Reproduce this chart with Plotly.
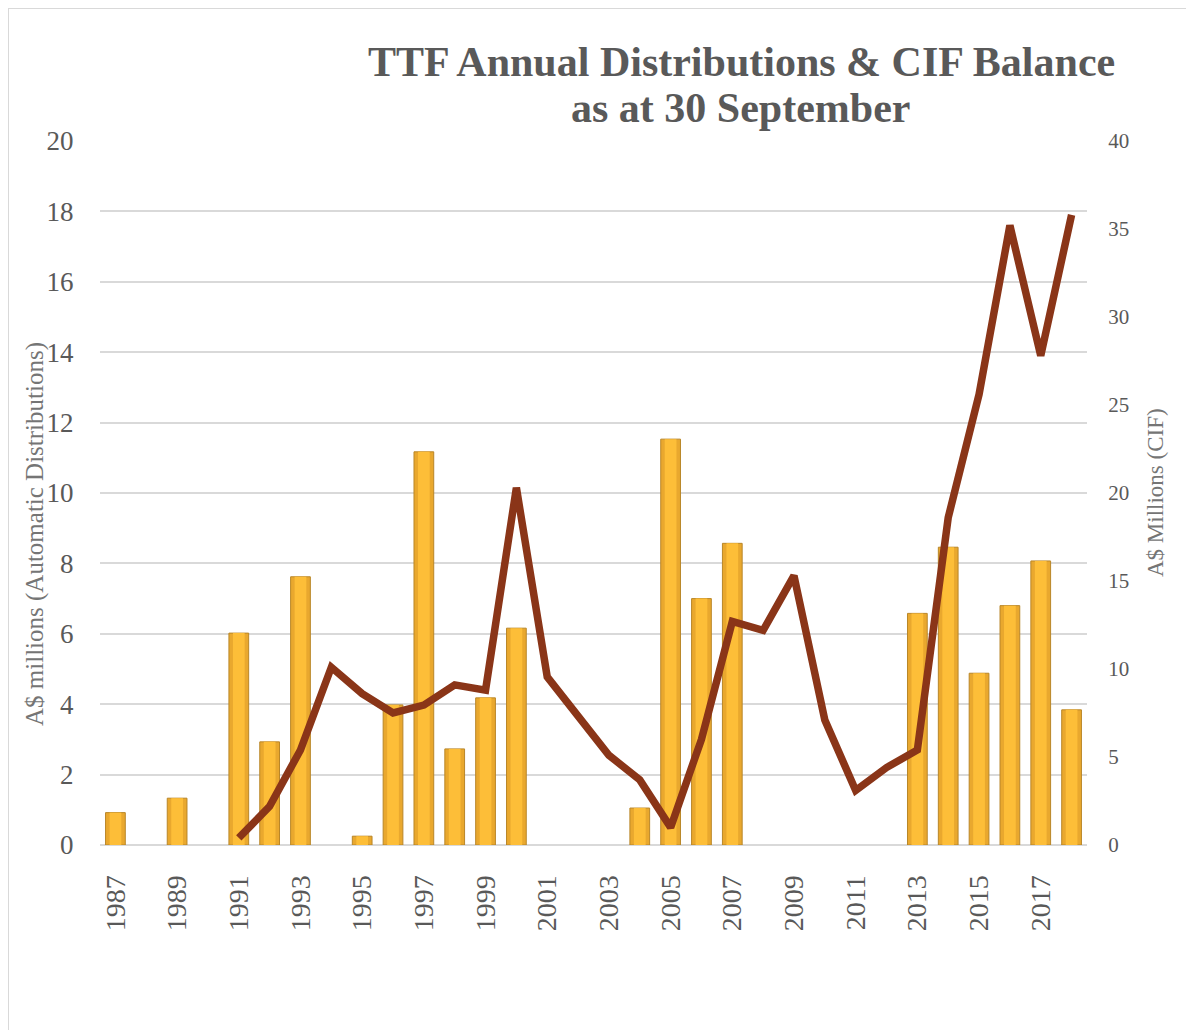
import plotly.graph_objects as go

years = list(range(1987, 2019))
distributions = [0.92, 0, 1.33, 0, 6.02, 2.93, 7.62, 0, 0.25, 3.98, 11.17, 2.73, 4.18, 6.16,
                 0, 0, 0, 1.05, 11.53, 7.0, 8.57, 0, 0, 0, 0, 0, 6.58, 8.46, 4.88, 6.8, 8.07, 3.84]
cif_years = list(range(1991, 2019))
cif_balance = [0.4, 2.2, 5.4, 10.1, 8.6, 7.5, 7.95, 9.1, 8.8, 20.3, 9.55, 7.3, 5.1, 3.7, 1.0,
               6.0, 12.7, 12.2, 15.3, 7.1, 3.1, 4.4, 5.4, 18.6, 25.6, 35.2, 27.8, 35.8]
tick_years = list(range(1987, 2019, 2))
left_ticks = list(range(0, 21, 2))
right_ticks = list(range(0, 41, 5))

FONT = "Liberation Serif"
GREY = "#595959"

# plot area in page pixels (page has an 8px body margin)
PL, PR, PT, PB = 100, 1087, 141, 845
PW, PH = PR - PL, PB - PT


def px(x):
    return (x - PL) / PW


def py(y):
    return (PB - y) / PH


bar_x = [y for y, v in zip(years, distributions) if v > 0]
bar_y = [v for v in distributions if v > 0]

fig = go.Figure()
fig.add_trace(go.Bar(
    x=bar_x, y=bar_y, width=0.64,
    marker=dict(color="#E9A82E", line=dict(color="#B98628", width=1)),
    name="Automatic Distributions",
))
fig.add_trace(go.Bar(
    x=bar_x, y=bar_y, width=0.38,
    marker=dict(color="#FDBE38", line=dict(width=0)),
    hoverinfo="skip", showlegend=False,
))
fig.add_trace(go.Scatter(
    x=cif_years, y=cif_balance, yaxis="y2", mode="lines",
    line=dict(color="#8A3518", width=7.5),
    name="CIF Balance",
))

fig.update_layout(
    width=1186, height=1022,
    margin=dict(l=PL - 8, r=1194 - PR, t=PT - 8, b=1030 - PB),
    paper_bgcolor="white", plot_bgcolor="white",
    showlegend=False,
    barmode="overlay",
    font=dict(family=FONT, color=GREY),
    xaxis=dict(
        range=[1986.5, 2018.5],
        tickmode="array", tickvals=tick_years, ticktext=[str(t) for t in tick_years],
        tickangle=-90, tickfont=dict(size=28, color=GREY),
        showgrid=False, zeroline=False, showline=False,
        ticks="outside", ticklen=18, tickcolor="rgba(0,0,0,0)",
    ),
    yaxis=dict(
        range=[0, 20], tickmode="array", tickvals=left_ticks,
        tickfont=dict(size=27, color=GREY),
        showgrid=True, gridcolor="#D9D9D9", gridwidth=2,
        zeroline=True, zerolinecolor="#D9D9D9", zerolinewidth=2,
        ticks="outside", ticklen=20, tickcolor="rgba(0,0,0,0)",
    ),
    yaxis2=dict(
        range=[0, 40], tickmode="array", tickvals=right_ticks,
        overlaying="y", side="right",
        tickfont=dict(size=21, color=GREY),
        showgrid=False, zeroline=False,
        ticks="outside", ticklen=16, tickcolor="rgba(0,0,0,0)",
    ),
    annotations=[
        dict(text="<b>TTF Annual Distributions & CIF Balance</b>",
             x=px(741), y=py(62), xref="paper", yref="paper", showarrow=False,
             xanchor="center", yanchor="middle",
             font=dict(size=42, color=GREY, family=FONT)),
        dict(text="<b>as at 30 September</b>",
             x=px(740), y=py(108), xref="paper", yref="paper", showarrow=False,
             xanchor="center", yanchor="middle",
             font=dict(size=42, color=GREY, family=FONT)),
        dict(text="A$ millions (Automatic Distributions)", textangle=-90,
             x=px(35), y=py(534), xref="paper", yref="paper", showarrow=False,
             xanchor="center", yanchor="middle",
             font=dict(size=25, color="#757575", family=FONT)),
        dict(text="A$ Millions (CIF)", textangle=-90,
             x=px(1155), y=py(493), xref="paper", yref="paper", showarrow=False,
             xanchor="center", yanchor="middle",
             font=dict(size=23, color="#757575", family=FONT)),
    ],
    shapes=[
        dict(type="rect", xref="paper", yref="paper",
             x0=px(8), x1=px(1300), y0=py(1200), y1=py(8),
             line=dict(color="#D9D9D9", width=2), fillcolor="rgba(0,0,0,0)", layer="below"),
    ],
)

fig.write_html("out.html")
